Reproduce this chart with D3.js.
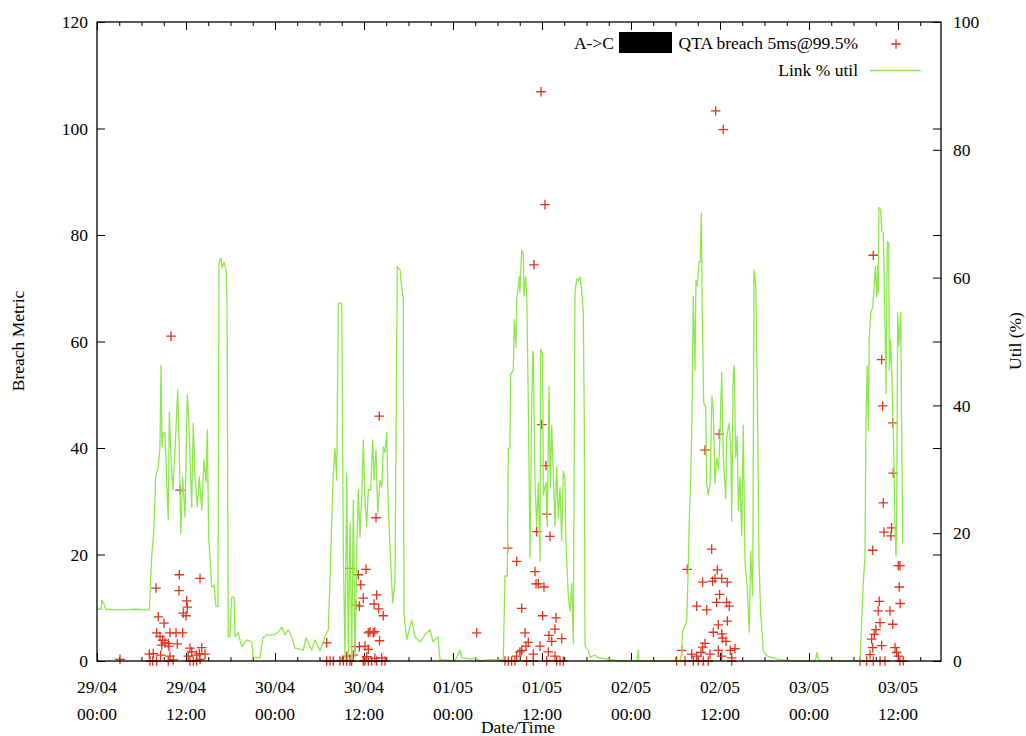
<!DOCTYPE html>
<html>
<head>
<meta charset="utf-8">
<script src="https://cdn.jsdelivr.net/npm/d3@7"></script>
<style>
  body { margin: 0; background: #fff; }
  svg text { font-family: "Liberation Serif", "DejaVu Serif", serif; font-size: 17.5px; fill: #000; }
</style>
</head>
<body>
<div id="chart"></div>
<script>
// time is given in hours from 29/04 00:00
const startTime = new Date(2013, 3, 29, 0, 0);
const endHour = 113.8;

const leftTicks = [0, 20, 40, 60, 80, 100, 120];
const rightTicks = [0, 20, 40, 60, 80, 100];
const legendLabels = ["A->C", "QTA breach 5ms@99.5%", "Link % util"];

// Link % util  [hour, util %]
const utilSeries = [
  [0,8.1],[0.54,8.1],[0.67,9.5],[0.94,8.9],[1.21,8.1],[3.10,8.0],[5.12,8.1],[7.05,8.0],
  [7.15,10.6],[7.38,16.3],[7.69,21.0],[7.91,28.8],[8.27,30.4],[8.49,33.5],[8.63,46.3],[8.76,33.5],
  [8.94,35.7],[9.17,35.7],[9.40,27.9],[9.61,22.1],[9.75,39.0],[9.94,33.0],[10.21,26.8],[10.52,33.0],
  [10.88,42.4],[11.10,33.0],[11.29,20.0],[11.55,28.8],[11.87,22.5],[12.18,41.6],[12.36,38.2],[12.54,31.9],
  [12.77,24.1],[12.98,37.2],[13.21,28.8],[13.52,24.1],[13.79,28.8],[14.12,23.6],[14.43,31.5],[14.70,27.9],
  [14.87,36.2],[15.06,19.4],[15.47,11.6],[15.78,11.9],[16.04,8.5],[16.31,8.5],[16.45,62.4],[16.72,63.1],
  [16.85,61.5],[17.12,62.4],[17.39,61.2],[17.53,56.5],[17.70,3.8],[17.93,3.8],[18.16,10.0],[18.47,10.0],
  [18.61,3.8],[19.05,4.4],[19.51,2.2],[20.18,3.3],[20.86,3.0],[21.07,0.6],[21.98,0.5],[22.34,3.6],
  [22.88,4.1],[23.77,4.1],[24.45,4.5],[24.90,5.3],[25.35,4.1],[25.79,4.9],[26.25,3.8],[26.70,2.0],
  [27.82,1.7],[28.18,3.6],[28.95,1.7],[29.39,3.3],[30.07,1.6],[30.74,3.8],[31.19,4.9],[31.42,12.7],
  [31.82,28.3],[32.09,33.3],[32.32,28.3],[32.54,56.0],[32.99,56.0],[33.21,17.8],[33.44,0.2],[33.67,29.4],
  [33.88,0.6],[34.11,21.6],[34.34,0.2],[34.56,25.2],[34.79,0.6],[35.02,16.9],[35.23,26.8],[35.46,19.4],
  [35.69,25.7],[35.91,34.6],[36.13,25.2],[36.36,21.0],[36.58,26.8],[36.90,26.8],[37.17,34.6],[37.35,28.3],
  [37.62,33.0],[37.85,23.2],[38.16,28.3],[38.39,27.2],[38.60,33.5],[38.83,32.6],[39.06,35.8],[39.28,24.1],
  [39.60,15.3],[39.87,9.1],[40.18,12.7],[40.49,61.7],[40.85,61.2],[41.05,58.8],[41.30,56.5],[41.39,7.5],
  [41.76,3.3],[42.43,6.4],[42.88,3.8],[43.55,3.0],[44.22,4.1],[44.90,4.9],[45.30,3.0],[45.98,3.8],
  [46.25,0.2],[48.27,0],[48.94,1.7],[49.17,0.5],[50.29,0.3],[50.97,0.5],[51.64,0],[52.99,0.2],
  [54.78,0.2],[55.01,13.3],[55.32,13.3],[55.46,33.3],[55.68,33.3],[55.78,44.9],[56.13,45.5],[56.27,53.4],
  [56.49,49.1],[56.59,56.5],[56.94,60.1],[57.03,57.7],[57.26,64.3],[57.48,63.8],[57.57,57.1],[57.80,60.1],
  [57.94,57.7],[58.15,40.7],[58.38,16.3],[58.61,39.4],[58.74,48.5],[58.83,47.9],[59.06,27.9],[59.29,21.1],
  [59.50,27.9],[59.73,15.6],[59.82,48.8],[60.09,47.9],[60.18,26.0],[60.54,27.9],[60.71,21.1],[60.94,43.0],
  [61.12,27.2],[61.31,36.9],[61.52,29.7],[61.75,21.1],[61.98,30.4],[62.20,22.4],[62.43,27.2],[62.66,18.8],
  [62.87,29.7],[63.10,28.5],[63.24,18.2],[63.55,10.2],[63.78,7.8],[64.01,12.1],[64.22,2.8],[64.45,57.7],
  [64.68,59.8],[64.90,59.5],[65.12,60.1],[65.35,58.1],[65.57,54.6],[65.71,36.5],[65.80,2.3],[66.24,1.7],
  [66.47,0.6],[67.15,0.9],[67.59,0.5],[68.72,0.3],[70.52,0],[72.81,0],[72.98,1.7],[73.07,0],
  [78.61,0],[78.84,1.3],[78.92,4.5],[79.51,6.3],[79.72,14.4],[79.86,22.5],[80.05,28.3],[80.18,35.2],
  [80.26,42.1],[80.40,57.1],[80.63,45.5],[80.76,59.6],[80.94,58.7],[81.17,62.4],[81.34,62.4],[81.48,70.1],
  [81.61,54.8],[81.80,40.4],[82.07,39.7],[82.21,27.7],[82.42,26.0],[82.65,27.7],[82.92,41.5],[83.10,39.3],
  [83.33,27.7],[83.56,31.8],[83.82,30.0],[84.00,35.2],[84.23,45.2],[84.44,32.2],[84.77,25.4],[84.90,35.2],
  [85.25,37.2],[85.48,32.2],[85.58,21.9],[85.79,45.2],[85.93,46.2],[86.11,31.8],[86.33,35.2],[86.47,23.6],
  [86.70,28.8],[86.93,19.6],[87.14,36.9],[87.37,15.5],[87.68,11.4],[87.95,4.5],[88.14,17.2],[88.41,10.3],
  [88.59,61.2],[88.82,58.8],[89.03,43.3],[89.26,15.5],[89.49,7.4],[89.84,1.6],[90.30,0.8],[91.19,0.5],
  [92.09,0.2],[93.84,0],[96.88,0],[97.04,1.3],[97.21,0.5],[97.48,0],[102.88,0],[103.10,5.9],
  [103.32,12.2],[103.55,16.4],[103.68,37.2],[103.86,46.2],[104.00,36.2],[104.13,50.7],[104.32,54.5],[104.59,55.4],
  [104.76,58.1],[104.94,61.7],[105.13,57.0],[105.26,61.7],[105.34,57.6],[105.44,71.0],[105.67,70.6],[105.80,67.4],
  [106.02,67.0],[106.25,52.9],[106.39,41.9],[106.56,65.6],[106.75,65.4],[106.83,45.5],[107.02,50.2],[107.15,45.5],
  [107.37,36.2],[107.60,21.6],[107.73,16.4],[107.82,21.6],[107.96,54.5],[108.13,49.3],[108.36,54.6],[108.49,37.2],
  [108.63,18.5]
];

// QTA breach metric  [hour, value]
const breachDay1 = [
  [3.10,0.3],[11.19,32.1],[9.98,61.0],[11.10,16.2],[13.89,15.5],[7.95,13.7],[11.06,13.2],[12.09,11.3],
  [12.18,10.1],[11.64,9.0],[12.00,8.5],[8.27,8.3],[9.03,7.1],[8.05,5.3],[9.84,5.3],[10.65,5.3],
  [11.55,5.3],[8.49,4.6],[8.86,3.9],[9.17,3.4],[9.61,3.3],[10.83,3.2],[8.72,3.0],[9.70,2.8],
  [12.54,2.4],[14.12,2.5],[12.77,1.7],[13.80,1.4],[7.05,1.3],[7.59,1.4],[8.59,1.1],[9.84,0.9],
  [12.31,0.9],[13.44,1.1],[14.56,1.3],[7.15,0],[7.51,0],[8.05,0],[9.61,0],[10.29,0.2],
  [12.54,0],[12.98,0],[13.44,0],[13.89,0.3]
];
const breachDay2 = [
  [30.97,3.4],[38.06,46.0],[37.62,26.9],[34.11,17.4],[36.27,17.2],[35.23,16.2],[35.56,14.3],[37.71,12.4],
  [35.90,11.8],[37.35,10.7],[35.37,10.3],[37.98,9.8],[34.92,10.5],[38.60,8.5],[36.81,5.5],[37.45,5.5],
  [36.58,5.3],[37.25,5.3],[38.10,3.8],[34.79,2.7],[35.37,2.7],[36.13,2.8],[36.58,2.2],[33.67,0.9],
  [34.56,1.1],[36.36,0.8],[37.48,0.5],[38.39,0.6],[30.97,0],[31.42,0],[31.86,0],[32.76,0],
  [33.21,0],[33.67,0],[34.11,0],[34.34,0],[35.90,0],[36.13,0],[36.58,0],[37.03,0],
  [37.71,0],[38.39,0],[38.83,0]
];
const breachDay3 = [
  [51.20,5.3],[59.87,106.9],[60.40,85.7],[58.92,74.4],[59.97,44.4],[60.54,36.7],[60.63,27.6],[59.29,24.3],
  [61.08,23.4],[55.38,21.2],[56.59,18.7],[59.06,16.8],[59.50,14.5],[60.27,13.9],[59.20,14.5],[57.26,9.9],
  [60.09,8.5],[61.89,8.1],[61.75,6.0],[57.71,5.3],[60.94,4.8],[62.66,4.2],[61.31,3.7],[58.15,3.5],
  [57.84,2.8],[57.26,2.0],[59.73,2.8],[57.03,1.7],[60.85,1.7],[56.59,0.9],[58.83,1.3],[61.75,0.9],
  [55.01,0],[55.46,0],[55.91,0],[56.36,0],[57.93,0],[58.83,0],[60.63,0],[61.98,0],
  [62.43,0],[62.87,0]
];
const breachDay4 = [
  [83.42,103.3],[84.44,99.8],[83.90,42.6],[81.98,39.6],[82.88,21.0],[79.59,17.2],[83.64,17.1],[81.67,14.8],
  [83.01,15.0],[84.23,15.5],[84.98,14.8],[83.33,15.5],[83.95,12.5],[80.86,10.3],[82.21,9.6],[84.90,11.0],
  [83.55,11.0],[85.25,10.3],[85.00,7.5],[83.77,6.8],[83.10,5.4],[84.25,5.1],[84.81,3.7],[81.98,3.3],
  [81.67,2.6],[83.77,2.0],[78.84,2.0],[81.44,1.6],[85.38,2.0],[86.02,2.3],[80.18,1.3],[80.86,0.9],
  [82.65,1.3],[84.23,0.9],[85.58,0.6],[84.35,4.3],[78.16,0],[79.28,0],[80.40,0],[81.07,0],
  [81.75,0],[82.42,0],[85.58,0]
];
const breachDay5 = [
  [104.67,76.2],[105.80,56.6],[105.93,47.9],[107.28,44.7],[107.37,35.3],[106.02,29.7],[107.15,25.0],[106.11,24.2],
  [107.05,23.5],[104.59,20.8],[108.04,17.9],[108.27,17.9],[108.17,13.9],[105.48,11.2],[108.30,10.8],[105.34,9.4],
  [106.92,9.4],[105.58,7.2],[107.30,6.9],[105.02,5.9],[104.80,5.0],[104.45,4.1],[104.59,2.5],[105.80,2.9],
  [107.60,2.5],[104.23,1.2],[107.82,1.6],[108.04,0.9],[102.88,0],[103.78,0],[104.67,0],[105.58,0],
  [106.25,0],[108.27,0],[108.71,0]
];
const breachSeries = [].concat(breachDay1, breachDay2, breachDay3, breachDay4, breachDay5);

const width = 1026, height = 736;
const margin = { left: 97, right: 85, top: 22, bottom: 75 };
const plotW = width - margin.left - margin.right;
const plotH = height - margin.top - margin.bottom;

const toDate = h => new Date(startTime.getTime() + h * 3600e3);

const svg = d3.select("#chart").append("svg")
  .attr("width", width)
  .attr("height", height);

const g = svg.append("g").attr("transform", `translate(${margin.left},${margin.top})`);

const x = d3.scaleTime().domain([startTime, toDate(endHour)]).range([0, plotW]);
const yLeft = d3.scaleLinear().domain([0, 120]).range([plotH, 0]);
const yRight = d3.scaleLinear().domain([0, 100]).range([plotH, 0]);

// ticks (all pointing inwards, gnuplot style)
function clean(sel) {
  sel.select(".domain").remove();
  sel.selectAll(".tick line").attr("stroke", "#000").attr("stroke-width", 1);
}
g.append("g").attr("transform", `translate(0,${plotH})`)
  .call(d3.axisBottom(x).ticks(d3.timeHour.every(3)).tickSize(-4).tickFormat("")).call(clean);
g.append("g").attr("transform", `translate(0,${plotH})`)
  .call(d3.axisBottom(x).ticks(d3.timeHour.every(12)).tickSize(-8).tickFormat("")).call(clean);
g.append("g")
  .call(d3.axisTop(x).ticks(d3.timeHour.every(3)).tickSize(-4).tickFormat("")).call(clean);
g.append("g")
  .call(d3.axisTop(x).ticks(d3.timeHour.every(12)).tickSize(-8).tickFormat("")).call(clean);

const fmtDay = d3.timeFormat("%d/%m");
const fmtHour = d3.timeFormat("%H:%M");
const xLabels = g.append("g").selectAll("text")
  .data(x.ticks(d3.timeHour.every(12)))
  .join("text")
  .attr("text-anchor", "middle")
  .attr("transform", d => `translate(${x(d)},${plotH})`);
xLabels.append("tspan").attr("x", 0).attr("y", 32).text(d => fmtDay(d));
xLabels.append("tspan").attr("x", 0).attr("y", 59).text(d => fmtHour(d));

const leftAxis = g.append("g")
  .call(d3.axisLeft(yLeft).tickValues(leftTicks).tickSize(-8).tickPadding(9))
  .call(clean);
leftAxis.selectAll("text").attr("fill", "#000").attr("dy", "0.32em");

g.append("g").attr("transform", `translate(${plotW},0)`)
  .call(d3.axisRight(yLeft).tickValues(leftTicks).tickSize(-8).tickFormat(""))
  .call(clean);
const rightAxis = g.append("g").attr("transform", `translate(${plotW},0)`)
  .call(d3.axisRight(yRight).tickValues(rightTicks).tickSize(-8).tickPadding(12))
  .call(clean);
rightAxis.selectAll("text").attr("fill", "#000").attr("dy", "0.32em");
svg.selectAll(".tick text").style("font-family", "Liberation Serif, serif").style("font-size", "17.5px");

// breach points (+)
const plusColor = "#e2341c";
const lineColor = "#8ee84c";
const plus = (s) => `M${-s},0H${s}M0,${-s}V${s}`;
g.append("g").selectAll("path")
  .data(breachSeries)
  .join("path")
  .attr("d", plus(4.8))
  .attr("transform", d => `translate(${x(toDate(d[0]))},${yLeft(d[1])})`)
  .attr("stroke", plusColor)
  .attr("stroke-width", 1.3)
  .attr("fill", "none");

// util line
const line = d3.line()
  .x(d => x(toDate(d[0])))
  .y(d => yRight(d[1]));
g.append("path")
  .datum(utilSeries)
  .attr("d", line)
  .attr("fill", "none")
  .attr("stroke", lineColor)
  .attr("stroke-width", 1.3)
  .attr("stroke-linejoin", "round");

// border
g.append("rect")
  .attr("width", plotW).attr("height", plotH)
  .attr("fill", "none").attr("stroke", "#000").attr("stroke-width", 1.3);

// legend
const lg = svg.append("g");
lg.append("text").attr("x", 614).attr("y", 48.5).attr("text-anchor", "end").text(legendLabels[0]);
lg.append("rect").attr("x", 619).attr("y", 32).attr("width", 53).attr("height", 21).attr("fill", "#000");
lg.append("text").attr("x", 858).attr("y", 48.5).attr("text-anchor", "end").text(legendLabels[1]);
lg.append("path").attr("d", plus(4.8)).attr("transform", "translate(896,44)")
  .attr("stroke", plusColor).attr("stroke-width", 1.3);
lg.append("text").attr("x", 858).attr("y", 75.5).attr("text-anchor", "end").text(legendLabels[2]);
lg.append("line").attr("x1", 870).attr("x2", 921).attr("y1", 70.5).attr("y2", 70.5)
  .attr("stroke", lineColor).attr("stroke-width", 1.3);

// axis titles
svg.append("text").attr("transform", "translate(24,341) rotate(-90)")
  .attr("text-anchor", "middle").text("Breach Metric");
svg.append("text").attr("transform", "translate(1021,341) rotate(-90)")
  .attr("text-anchor", "middle").text("Util (%)");
svg.append("text").attr("x", 518).attr("y", 733)
  .attr("text-anchor", "middle").text("Date/Time");
</script>
</body>
</html>
